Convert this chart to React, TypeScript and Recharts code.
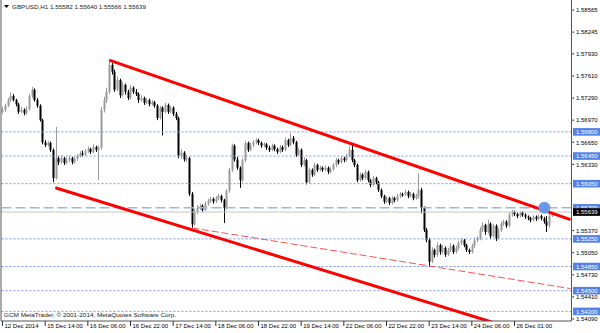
import React from 'react'
import { ComposedChart, Bar, XAxis, YAxis, ReferenceLine, ReferenceDot } from 'recharts'

// GBPUSD H1 bars, 12 Dec 2014 .. 26 Dec 2014
const opens = [
  1.5709, 1.5712, 1.5718, 1.5726, 1.5732, 1.5726, 1.5720, 1.5709, 1.5712, 1.5707, 1.5713, 1.5732, 1.5741, 1.5726, 1.5718, 1.5697,
  1.5665, 1.5661, 1.5664, 1.5654, 1.5613, 1.5642, 1.5636, 1.5642, 1.5635, 1.5639, 1.5642, 1.5636, 1.5641, 1.5645, 1.5649, 1.5647,
  1.5652, 1.5655, 1.5651, 1.5658, 1.5654, 1.5657, 1.5712, 1.5726, 1.5738, 1.5777, 1.5767, 1.5741, 1.5755, 1.5733, 1.5748, 1.5738,
  1.5729, 1.5744, 1.5738, 1.5735, 1.5726, 1.5729, 1.5722, 1.5726, 1.5720, 1.5723, 1.5718, 1.5700, 1.5715, 1.5709, 1.5719, 1.5709,
  1.5715, 1.5706, 1.5700, 1.5645, 1.5650, 1.5640, 1.5642, 1.5590, 1.5546, 1.5564, 1.5570, 1.5573, 1.5567, 1.5576, 1.5580, 1.5583,
  1.5579, 1.5584, 1.5587, 1.5581, 1.5570, 1.5595, 1.5625, 1.5660, 1.5640, 1.5628, 1.5610, 1.5639, 1.5664, 1.5654, 1.5661, 1.5665,
  1.5668, 1.5664, 1.5660, 1.5662, 1.5657, 1.5654, 1.5660, 1.5655, 1.5651, 1.5658, 1.5654, 1.5668, 1.5661, 1.5671, 1.5665, 1.5647,
  1.5654, 1.5632, 1.5639, 1.5607, 1.5625, 1.5618, 1.5632, 1.5625, 1.5628, 1.5625, 1.5628, 1.5622, 1.5626, 1.5632, 1.5639, 1.5636,
  1.5642, 1.5639, 1.5645, 1.5654, 1.5639, 1.5632, 1.5610, 1.5618, 1.5613, 1.5622, 1.5610, 1.5603, 1.5613, 1.5607, 1.5596, 1.5587,
  1.5579, 1.5584, 1.5577, 1.5584, 1.5581, 1.5587, 1.5590, 1.5589, 1.5593, 1.5587, 1.5590, 1.5584, 1.5587, 1.5596, 1.5570, 1.5538,
  1.5523, 1.5492, 1.5509, 1.5502, 1.5516, 1.5506, 1.5512, 1.5502, 1.5509, 1.5515, 1.5506, 1.5512, 1.5519, 1.5523, 1.5516, 1.5509,
  1.5506, 1.5515, 1.5523, 1.5526, 1.5538, 1.5545, 1.5535, 1.5547, 1.5529, 1.5544, 1.5526, 1.5538, 1.5547, 1.5550, 1.5544, 1.5560,
  1.5564, 1.5561, 1.5558, 1.5563, 1.5560, 1.5557, 1.5555, 1.5552, 1.5557, 1.5554, 1.5558, 1.5555, 1.5550, 1.5544, 1.55582,
]

const highs = [
  1.5716, 1.5721, 1.5729, 1.5737, 1.5735, 1.5728, 1.5722, 1.5716, 1.5714, 1.5717, 1.5735, 1.5745, 1.5743, 1.5729, 1.5720, 1.5699,
  1.5668, 1.5667, 1.5666, 1.5656, 1.5687, 1.5645, 1.5646, 1.5644, 1.5643, 1.5645, 1.5644, 1.5644, 1.5648, 1.5652, 1.5653, 1.5655,
  1.5659, 1.5657, 1.5662, 1.5660, 1.5660, 1.5716, 1.5731, 1.5744, 1.5784, 1.5780, 1.5770, 1.5760, 1.5757, 1.5752, 1.5750, 1.5741,
  1.5748, 1.5746, 1.5742, 1.5737, 1.5733, 1.5731, 1.5729, 1.5728, 1.5726, 1.5725, 1.5720, 1.5718, 1.5717, 1.5722, 1.5721, 1.5718,
  1.5717, 1.5709, 1.5702, 1.5655, 1.5652, 1.5646, 1.5644, 1.5593, 1.5569, 1.5574, 1.5576, 1.5575, 1.5579, 1.5583, 1.5586, 1.5585,
  1.5587, 1.5590, 1.5589, 1.5583, 1.5597, 1.5628, 1.5663, 1.5662, 1.5644, 1.5630, 1.5642, 1.5667, 1.5666, 1.5664, 1.5668, 1.5671,
  1.5670, 1.5666, 1.5665, 1.5664, 1.5660, 1.5663, 1.5662, 1.5657, 1.5661, 1.5660, 1.5672, 1.5670, 1.5678, 1.5674, 1.5667, 1.5657,
  1.5656, 1.5643, 1.5641, 1.5628, 1.5627, 1.5635, 1.5634, 1.5631, 1.5630, 1.5631, 1.5630, 1.5629, 1.5635, 1.5642, 1.5641, 1.5645,
  1.5644, 1.5648, 1.5659, 1.5662, 1.5641, 1.5634, 1.5621, 1.5620, 1.5625, 1.5624, 1.5612, 1.5616, 1.5615, 1.5609, 1.5598, 1.5589,
  1.5587, 1.5586, 1.5587, 1.5586, 1.5590, 1.5593, 1.5592, 1.5596, 1.5595, 1.5593, 1.5592, 1.5590, 1.5620, 1.5599, 1.5572, 1.5541,
  1.5526, 1.5513, 1.5511, 1.5520, 1.5518, 1.5516, 1.5514, 1.5512, 1.5519, 1.5517, 1.5515, 1.5522, 1.5526, 1.5525, 1.5518, 1.5511,
  1.5518, 1.5527, 1.5529, 1.5542, 1.5549, 1.5547, 1.5553, 1.5549, 1.5547, 1.5546, 1.5541, 1.5550, 1.5553, 1.5552, 1.5563, 1.5567,
  1.5566, 1.5563, 1.5565, 1.5565, 1.5562, 1.5559, 1.5557, 1.5559, 1.5559, 1.5560, 1.5560, 1.5557, 1.5558, 1.5562, 1.55640,
]

const lows = [
  1.5706, 1.5709, 1.5716, 1.5723, 1.5724, 1.5717, 1.5706, 1.5707, 1.5704, 1.5705, 1.5711, 1.5729, 1.5724, 1.5715, 1.5695, 1.5662,
  1.5658, 1.5659, 1.5651, 1.5607, 1.5611, 1.5632, 1.5634, 1.5632, 1.5633, 1.5636, 1.5633, 1.5634, 1.5638, 1.5643, 1.5644, 1.5645,
  1.5649, 1.5648, 1.5649, 1.5651, 1.5610, 1.5654, 1.5708, 1.5722, 1.5735, 1.5763, 1.5738, 1.5739, 1.5729, 1.5731, 1.5734, 1.5726,
  1.5727, 1.5735, 1.5732, 1.5722, 1.5724, 1.5719, 1.5720, 1.5717, 1.5718, 1.5715, 1.5697, 1.5698, 1.5675, 1.5707, 1.5706, 1.5707,
  1.5703, 1.5697, 1.5642, 1.5641, 1.5637, 1.5636, 1.5587, 1.5541, 1.5544, 1.5561, 1.5567, 1.5564, 1.5565, 1.5573, 1.5577, 1.5576,
  1.5577, 1.5581, 1.5578, 1.5548, 1.5567, 1.5592, 1.5622, 1.5637, 1.5625, 1.5599, 1.5607, 1.5636, 1.5651, 1.5652, 1.5658, 1.5662,
  1.5661, 1.5657, 1.5658, 1.5654, 1.5651, 1.5652, 1.5652, 1.5648, 1.5649, 1.5651, 1.5652, 1.5658, 1.5659, 1.5662, 1.5644, 1.5645,
  1.5629, 1.5630, 1.5604, 1.5605, 1.5615, 1.5616, 1.5622, 1.5623, 1.5622, 1.5623, 1.5619, 1.5620, 1.5624, 1.5629, 1.5633, 1.5634,
  1.5636, 1.5637, 1.5643, 1.5636, 1.5629, 1.5607, 1.5608, 1.5610, 1.5611, 1.5607, 1.5600, 1.5601, 1.5604, 1.5593, 1.5584, 1.5576,
  1.5577, 1.5574, 1.5575, 1.5578, 1.5579, 1.5584, 1.5586, 1.5587, 1.5584, 1.5585, 1.5581, 1.5582, 1.5583, 1.5562, 1.5535, 1.5520,
  1.5484, 1.5490, 1.5498, 1.5499, 1.5502, 1.5503, 1.5499, 1.5500, 1.5506, 1.5503, 1.5504, 1.5509, 1.5516, 1.5513, 1.5506, 1.5503,
  1.5504, 1.5512, 1.5520, 1.5523, 1.5535, 1.5531, 1.5533, 1.5525, 1.5527, 1.5522, 1.5524, 1.5535, 1.5544, 1.5541, 1.5542, 1.5557,
  1.5558, 1.5555, 1.5556, 1.5557, 1.5554, 1.5552, 1.5549, 1.5550, 1.5551, 1.5552, 1.5552, 1.5547, 1.5535, 1.5541, 1.55566,
]

const closes = [
  1.5712, 1.5718, 1.5726, 1.5732, 1.5726, 1.5720, 1.5709, 1.5712, 1.5707, 1.5713, 1.5732, 1.5741, 1.5726, 1.5718, 1.5697, 1.5665,
  1.5661, 1.5664, 1.5654, 1.5613, 1.5642, 1.5636, 1.5642, 1.5635, 1.5639, 1.5642, 1.5636, 1.5641, 1.5645, 1.5649, 1.5647, 1.5652,
  1.5655, 1.5651, 1.5658, 1.5654, 1.5657, 1.5712, 1.5726, 1.5738, 1.5777, 1.5767, 1.5741, 1.5755, 1.5733, 1.5748, 1.5738, 1.5729,
  1.5744, 1.5738, 1.5735, 1.5726, 1.5729, 1.5722, 1.5726, 1.5720, 1.5723, 1.5718, 1.5700, 1.5715, 1.5709, 1.5719, 1.5709, 1.5715,
  1.5706, 1.5700, 1.5645, 1.5650, 1.5640, 1.5642, 1.5590, 1.5546, 1.5564, 1.5570, 1.5573, 1.5567, 1.5576, 1.5580, 1.5583, 1.5579,
  1.5584, 1.5587, 1.5581, 1.5570, 1.5595, 1.5625, 1.5660, 1.5640, 1.5628, 1.5610, 1.5639, 1.5664, 1.5654, 1.5661, 1.5665, 1.5668,
  1.5664, 1.5660, 1.5662, 1.5657, 1.5654, 1.5660, 1.5655, 1.5651, 1.5658, 1.5654, 1.5668, 1.5661, 1.5671, 1.5665, 1.5647, 1.5654,
  1.5632, 1.5639, 1.5607, 1.5625, 1.5618, 1.5632, 1.5625, 1.5628, 1.5625, 1.5628, 1.5622, 1.5626, 1.5632, 1.5639, 1.5636, 1.5642,
  1.5639, 1.5645, 1.5654, 1.5639, 1.5632, 1.5610, 1.5618, 1.5613, 1.5622, 1.5610, 1.5603, 1.5613, 1.5607, 1.5596, 1.5587, 1.5579,
  1.5584, 1.5577, 1.5584, 1.5581, 1.5587, 1.5590, 1.5589, 1.5593, 1.5587, 1.5590, 1.5584, 1.5587, 1.5596, 1.5570, 1.5538, 1.5523,
  1.5492, 1.5509, 1.5502, 1.5516, 1.5506, 1.5512, 1.5502, 1.5509, 1.5515, 1.5506, 1.5512, 1.5519, 1.5523, 1.5516, 1.5509, 1.5506,
  1.5515, 1.5523, 1.5526, 1.5538, 1.5545, 1.5535, 1.5547, 1.5529, 1.5544, 1.5526, 1.5538, 1.5547, 1.5550, 1.5544, 1.5560, 1.5564,
  1.5561, 1.5558, 1.5563, 1.5560, 1.5557, 1.5555, 1.5552, 1.5557, 1.5554, 1.5558, 1.5555, 1.5550, 1.5544, 1.55582, 1.55639,
]

const timeTicks = [0, 16, 32, 48, 64, 80, 96, 112, 128, 144, 160, 176, 192]
const timeLabels = [
  '12 Dec 2014', '15 Dec 14:00', '16 Dec 06:00', '16 Dec 22:00', '17 Dec 14:00', '18 Dec 06:00', '18 Dec 22:00',
  '19 Dec 14:00', '22 Dec 06:00', '22 Dec 22:00', '23 Dec 14:00', '24 Dec 06:00', '26 Dec 01:00',
]

const priceTicks = [
  1.58565, 1.58245, 1.5793, 1.5761, 1.5729, 1.5697, 1.5665, 1.5633, 1.5537, 1.5505, 1.5473, 1.5441, 1.5409,
]
const levels = [1.568, 1.5645, 1.5605, 1.5525, 1.5485, 1.545, 1.542]
const dashedLevel = 1.557
const bid = 1.55639

// trend lines as (bar index, price) anchors
const upperTrend = [{ x: 40, y: 1.5784 }, { x: 213, y: 1.5553 }]
const lowerTrend = [{ x: 19.8, y: 1.5599 }, { x: 200, y: 1.5385 }]
const projTrend = [{ x: 71, y: 1.5541 }, { x: 213, y: 1.5453 }]
const marker = { x: 203.2, y: 1.557 }

const header = 'GBPUSD,H1  1.55582 1.55640 1.55566 1.55639'
const footer = 'GCM MetaTrader, \u00a9 2001-2014, MetaQuotes Software Corp.'

const data = opens.map((o, i) => ({ i, o, c: closes[i], range: [lows[i], highs[i]] }))

const FONT = '"Liberation Sans", Arial, sans-serif'

function Candle(props: any) {
  const { x, y, width, height, payload } = props
  if (!payload) return null
  const [lo, hi] = payload.range
  const top = Math.min(y, y + height)
  const h = Math.abs(height)
  const cx = Math.round(x + width / 2) + 0.5
  const py = (p: number) => (hi === lo ? top : top + ((hi - p) / (hi - lo)) * h)
  const up = payload.c >= payload.o
  const color = up ? '#9a9a9a' : '#000'
  const bTop = py(Math.max(payload.o, payload.c))
  const bBot = py(Math.min(payload.o, payload.c))
  return (
    <g>
      <line x1={cx} x2={cx} y1={top} y2={top + h} stroke={color} strokeWidth={1} />
      <rect x={cx - 1} y={bTop} width={2} height={Math.max(1, bBot - bTop)} fill={color} />
    </g>
  )
}

function TimeTick(props: any) {
  const { x, y, payload } = props
  const idx = timeTicks.indexOf(payload.value)
  return (
    <g>
      <line x1={x} x2={x} y1={y} y2={y + 5} stroke="#333" />
      <text x={x + 2} y={y + 6.8} fontSize={6} fontFamily={FONT} fill="#000">
        {timeLabels[idx]}
      </text>
    </g>
  )
}

function PriceTick(props: any) {
  const { x, y, payload } = props
  const v = payload.value
  const isLevel = levels.includes(v) || v === dashedLevel
  const isBid = v === bid
  const txt = v.toFixed(5)
  if (isLevel || isBid) {
    return (
      <g>
        <rect x={x + 1.5} y={y - 3.8} width={27} height={7.6} fill={isBid ? '#000' : '#5383e6'} />
        <text x={x + 4.5} y={y + 2.3} fontSize={6} fontFamily={FONT} fill="#fff">
          {txt}
        </text>
      </g>
    )
  }
  return (
    <g>
      <line x1={x + 1} x2={x + 2.5} y1={y} y2={y} stroke="#000" />
      <text x={x + 4.5} y={y + 2.3} fontSize={6} fontFamily={FONT} fill="#000">
        {txt}
      </text>
    </g>
  )
}

export default function App() {
  const domainY: [number, number] = [1.54061, 1.5871]
  const allTicks = [...priceTicks, ...levels, dashedLevel, bid]
  return (
    <div style={{ position: 'absolute', left: 0, top: 0, width: 600, height: 333, background: '#fff' }}>
      <ComposedChart width={600} height={333} data={data} margin={{ top: 0, right: 0, bottom: 0, left: 0 }}>
        <XAxis
          type="number"
          dataKey="i"
          domain={[-0.5625, 213.375]}
          allowDataOverflow
          ticks={timeTicks}
          interval={0}
          tickSize={0}
          tickMargin={0}
          tick={<TimeTick />}
          height={12}
          axisLine={{ stroke: '#555' }}
        />
        <YAxis
          yAxisId="left"
          orientation="left"
          width={1}
          domain={domainY}
          allowDataOverflow
          tick={false}
          tickLine={false}
          axisLine={{ stroke: '#555' }}
        />
        <YAxis
          yAxisId="right"
          orientation="right"
          width={28.5}
          domain={domainY}
          allowDataOverflow
          ticks={allTicks}
          interval={0}
          tickSize={0}
          tickMargin={0}
          tickLine={false}
          tick={<PriceTick />}
          axisLine={{ stroke: '#555' }}
        />
        {levels.map((lv) => (
          <ReferenceLine key={lv} yAxisId="right" y={lv} stroke="#7b93e6" strokeDasharray="2 2" />
        ))}
        <ReferenceLine yAxisId="right" y={dashedLevel} stroke="#9fb4ee" strokeWidth={1.5} strokeDasharray="10 4" />
        <ReferenceLine yAxisId="right" y={bid} stroke="#c4c4c4" />
        <Bar yAxisId="right" dataKey="range" barSize={2} shape={<Candle />} isAnimationActive={false} />
        <ReferenceDot yAxisId="right" x={marker.x} y={marker.y} r={6} fill="#6a97e8" stroke="none" />
        <ReferenceLine yAxisId="right" segment={projTrend} stroke="#ff5050" strokeWidth={1} strokeDasharray="7 3" ifOverflow="hidden" />
        <ReferenceLine yAxisId="right" segment={upperTrend} stroke="#ff0000" strokeWidth={3} ifOverflow="hidden" />
        <ReferenceLine yAxisId="right" segment={lowerTrend} stroke="#ff0000" strokeWidth={3} ifOverflow="hidden" />
      </ComposedChart>
      <svg width={600} height={333} style={{ position: 'absolute', left: 0, top: 0, pointerEvents: 'none' }}>
        <polygon points="4,5 9,5 6.5,8" fill="#000" />
        <text x={12} y={8.8} fontSize={6} fontFamily={FONT} fill="#222" textLength={134} lengthAdjust="spacingAndGlyphs">
          {header}
        </text>
        <text x={4} y={317.3} fontSize={6} fontFamily={FONT} fill="#222" textLength={172} lengthAdjust="spacingAndGlyphs">
          {footer}
        </text>
      </svg>
    </div>
  )
}
